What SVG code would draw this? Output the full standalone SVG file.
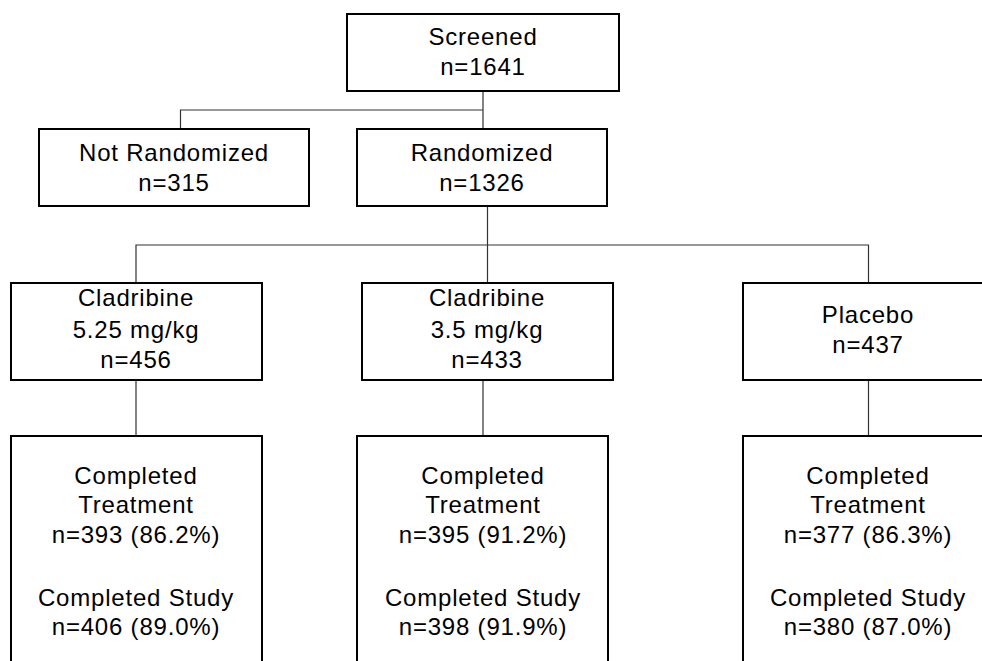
<svg xmlns="http://www.w3.org/2000/svg" width="982" height="661" viewBox="0 0 982 661">
<style>
.box{fill:#fff;stroke:#000;stroke-width:2}
.ln{fill:none;stroke:#333;stroke-width:1.2}
text{font-family:"Liberation Sans",Arial,sans-serif;font-size:24px;letter-spacing:0.8px;fill:#000;text-anchor:middle}
</style>
<rect width="982" height="661" fill="#fff"/>
<g id="connectors">
<path class="ln" d="M483,91 V129 M180.5,129 V110 H483"/>
<path class="ln" d="M487.5,206 V283 M136,283 V245 H868.5 V283"/>
<path class="ln" d="M136,380 V436 M483,380 V436 M868.5,380 V436"/>
</g>
<g id="screened">
<rect class="box" x="347" y="14" width="272" height="77"/>
<text x="483" y="45">Screened</text>
<text x="483" y="75">n=1641</text>
</g>
<g id="not-randomized">
<rect class="box" x="39" y="129" width="270" height="77"/>
<text x="174" y="161">Not Randomized</text>
<text x="174" y="191">n=315</text>
</g>
<g id="randomized">
<rect class="box" x="357" y="129" width="250" height="77"/>
<text x="482" y="161">Randomized</text>
<text x="482" y="191">n=1326</text>
</g>
<g id="clad525">
<rect class="box" x="11" y="283" width="251" height="97"/>
<text x="136" y="306">Cladribine</text>
<text x="136" y="338">5.25 mg/kg</text>
<text x="136" y="368">n=456</text>
</g>
<g id="clad35">
<rect class="box" x="362" y="283" width="251" height="97"/>
<text x="487" y="306">Cladribine</text>
<text x="487" y="338">3.5 mg/kg</text>
<text x="487" y="368">n=433</text>
</g>
<g id="placebo">
<rect class="box" x="743" y="283" width="260" height="97"/>
<text x="868" y="323">Placebo</text>
<text x="868" y="353">n=437</text>
</g>
<g id="done525">
<rect class="box" x="11" y="436" width="251" height="240"/>
<text x="136" y="484">Completed</text>
<text x="136" y="513">Treatment</text>
<text x="136" y="543">n=393 (86.2%)</text>
<text x="136" y="606">Completed Study</text>
<text x="136" y="635">n=406 (89.0%)</text>
</g>
<g id="done35">
<rect class="box" x="357" y="436" width="251" height="240"/>
<text x="483" y="484">Completed</text>
<text x="483" y="513">Treatment</text>
<text x="483" y="543">n=395 (91.2%)</text>
<text x="483" y="606">Completed Study</text>
<text x="483" y="635">n=398 (91.9%)</text>
</g>
<g id="doneplacebo">
<rect class="box" x="743" y="436" width="260" height="240"/>
<text x="868" y="484">Completed</text>
<text x="868" y="513">Treatment</text>
<text x="868" y="543">n=377 (86.3%)</text>
<text x="868" y="606">Completed Study</text>
<text x="868" y="635">n=380 (87.0%)</text>
</g>
</svg>
